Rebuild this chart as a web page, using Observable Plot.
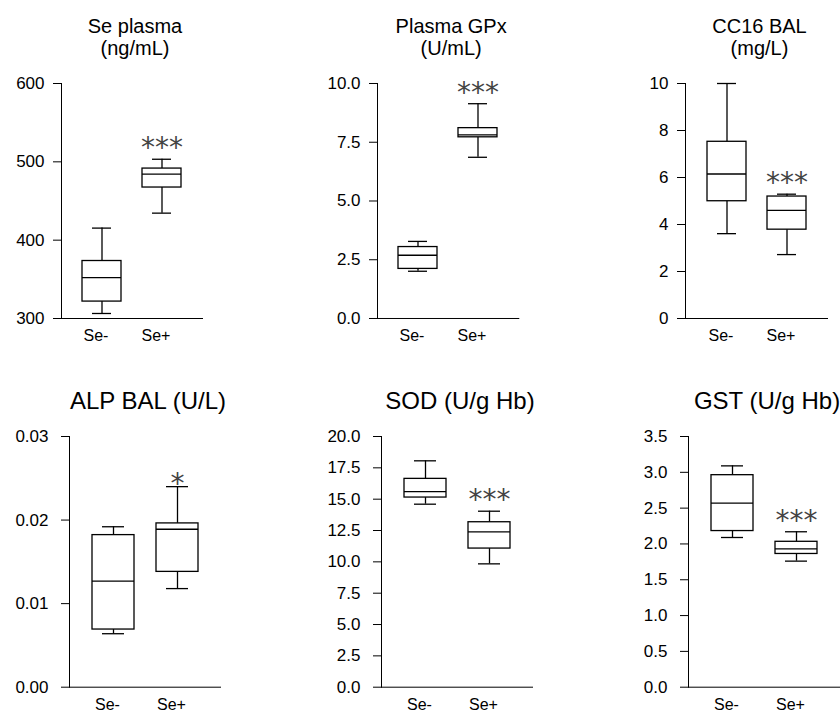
<!DOCTYPE html>
<html><head><meta charset="utf-8">
<script src="https://cdn.jsdelivr.net/npm/d3@7"></script>
<script src="https://cdn.jsdelivr.net/npm/@observablehq/plot@0.6"></script>
<style>
html,body{margin:0;padding:0;background:#fff;}
#chart{position:relative;width:840px;height:712px;overflow:hidden;font-family:"Liberation Sans",Arial,sans-serif;}
#chart .panel{position:absolute;}
#chart svg{overflow:visible;}
#chart g[aria-label="y-axis tick label"], #chart g[aria-label="y-axis tick label"] text{font-size:17px !important;}
#chart g[aria-label="x-axis tick label"], #chart g[aria-label="x-axis tick label"] text{font-size:16px !important;}
</style></head><body><div id="chart"></div>
<script>
// ---- data ----
const groups = ["Se-", "Se+"];
const titles = ["Se plasma\n(ng/mL)", "Plasma GPx\n(U/mL)", "CC16 BAL\n(mg/L)", "ALP BAL (U/L)", "SOD (U/g Hb)", "GST (U/g Hb)"];
const significance = ["***", "***", "***", "*", "***", "***"];
// five-number summaries [min, q1, median, q3, max] for Se- and Se+
const sePlasma = [[306.4, 321.6, 352.2, 373.4, 415.4], [434.5, 467.2, 484.2, 491.4, 503.3]];
const plasmaGPx = [[2.01, 2.11, 2.69, 3.04, 3.28], [6.86, 7.71, 7.81, 8.10, 9.14]];
const cc16Bal = [[3.61, 4.99, 6.15, 7.52, 10.0], [2.72, 3.78, 4.60, 5.19, 5.29]];
const alpBal = [[0.0064, 0.0069, 0.0127, 0.0182, 0.0192], [0.0118, 0.0138, 0.0189, 0.0196, 0.0240]];
const sodHb = [[14.60, 15.13, 15.61, 16.62, 18.06], [9.84, 11.06, 12.39, 13.16, 14.04]];
const gstHb = [[2.09, 2.18, 2.57, 2.96, 3.09], [1.76, 1.86, 1.93, 2.03, 2.17]];
const ticksSePlasma = [300, 400, 500, 600];
const ticksPlasmaGPx = [0, 2.5, 5, 7.5, 10];
const ticksCC16 = [0, 2, 4, 6, 8, 10];
const ticksALP = [0, 0.01, 0.02, 0.03];
const ticksSOD = [0, 2.5, 5, 7.5, 10, 12.5, 15, 17.5, 20];
const ticksGST = [0, 0.5, 1, 1.5, 2, 2.5, 3, 3.5];

// ---- layout ----
const rowsLayout = [
  {top: 0, height: 356, marginTop: 83, marginBottom: 38, titleSize: 20, titleDy: -66.5, tickPad: 10},
  {top: 356, height: 356, marginTop: 80, marginBottom: 25.3, titleSize: 24, titleDy: -46.5, tickPad: 14}
];
const panels = [
  {data: sePlasma, ticks: ticksSePlasma, fmt: "d", axisX: 61, w: 141, row: 0},
  {data: plasmaGPx, ticks: ticksPlasmaGPx, fmt: ".1f", axisX: 376.7, w: 141.3, row: 0},
  {data: cc16Bal, ticks: ticksCC16, fmt: "d", axisX: 685, w: 142, row: 0},
  {data: alpBal, ticks: ticksALP, fmt: ".2f", axisX: 69, w: 151, row: 1},
  {data: sodHb, ticks: ticksSOD, fmt: ".1f", axisX: 380.7, w: 151, row: 1},
  {data: gstHb, ticks: ticksGST, fmt: ".1f", axisX: 688.3, w: 151, row: 1}
];

const ML = 60;
const SW = 1.3;
const chart = document.getElementById("chart");
panels.forEach((p, k) => {
  const L = rowsLayout[p.row];
  const rows = groups.map((g, i) => ({group: g, min: p.data[i][0], q1: p.data[i][1], med: p.data[i][2], q3: p.data[i][3], max: p.data[i][4]}));
  const sig = significance[k];
  const sigRow = [{group: "Se+", y: rows[1].max, label: sig}];
  const plot = Plot.plot({
    width: ML + p.w,
    height: L.height,
    marginLeft: ML,
    marginRight: 0,
    marginTop: L.marginTop,
    marginBottom: L.marginBottom,
    x: {type: "band", domain: groups, padding: 0.35, align: 0.5},
    y: {domain: [p.ticks[0], p.ticks[p.ticks.length - 1]]},
    style: {fontFamily: "'Liberation Sans', Arial, sans-serif", fontSize: "16px", color: "#000", background: "transparent", overflow: "visible"},
    marks: [
      Plot.axisY({ticks: p.ticks, tickFormat: d3.format(p.fmt), tickSize: 8, tickPadding: L.tickPad - 1, label: null}),
      Plot.axisX({tickSize: 0, tickPadding: 11, dx: -6, label: null}),
      Plot.frame({anchor: "left", stroke: "#000"}),
      Plot.frame({anchor: "bottom", stroke: "#000"}),
      Plot.ruleX(rows, {x: "group", y1: "q3", y2: "max", stroke: "#000", strokeWidth: SW}),
      Plot.ruleX(rows, {x: "group", y1: "min", y2: "q1", stroke: "#000", strokeWidth: SW}),
      Plot.tickY(rows, {x: "group", y: "max", insetLeft: 10, insetRight: 10, stroke: "#000", strokeWidth: SW}),
      Plot.tickY(rows, {x: "group", y: "min", insetLeft: 10, insetRight: 10, stroke: "#000", strokeWidth: SW}),
      Plot.barY(rows, {x: "group", y1: "q1", y2: "q3", fill: "white", stroke: "#000", strokeWidth: SW}),
      Plot.tickY(rows, {x: "group", y: "med", stroke: "#000", strokeWidth: SW}),
      Plot.text(sigRow, {x: "group", y: "y", text: "label", lineAnchor: "bottom", dy: sig.length > 1 ? -2 : 6.5, fontSize: 28, fill: "#444", fontFamily: "'DejaVu Sans', sans-serif"}),
      Plot.text([titles[k]], {frameAnchor: "top", dx: 3, dy: L.titleDy, lineAnchor: "top", lineHeight: 1.1, fontSize: L.titleSize, fill: "#000"})
    ]
  });
  const div = document.createElement("div");
  div.className = "panel";
  div.style.left = (p.axisX - ML) + "px";
  div.style.top = L.top + "px";
  div.appendChild(plot);
  chart.appendChild(div);
});
</script></body></html>
